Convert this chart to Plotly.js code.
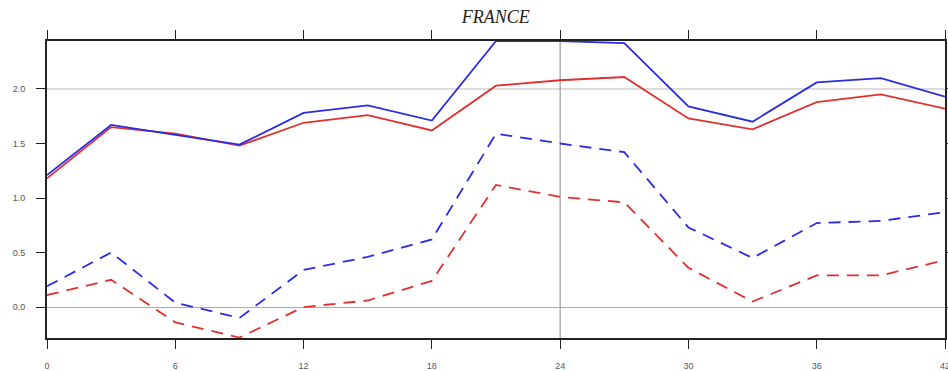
<!DOCTYPE html>
<html>
<head>
<meta charset="utf-8">
<script src="https://cdn.plot.ly/plotly-3.0.1.min.js"></script>
<style>html,body{margin:0;padding:0;background:#fff;}#chart{width:948px;height:371px;}</style>
</head>
<body>
<div id="chart"></div>
<script>
const hours = [0, 3, 6, 9, 12, 15, 18, 21, 24, 27, 30, 33, 36, 39, 42];
const blueSolid = [1.21, 1.67, 1.58, 1.49, 1.78, 1.85, 1.71, 2.44, 2.44, 2.42, 1.84, 1.70, 2.06, 2.10, 1.93];
const redSolid  = [1.18, 1.65, 1.59, 1.48, 1.69, 1.76, 1.62, 2.03, 2.08, 2.11, 1.73, 1.63, 1.88, 1.95, 1.82];
const blueDash  = [0.19, 0.50, 0.04, -0.10, 0.34, 0.46, 0.62, 1.59, 1.50, 1.42, 0.73, 0.45, 0.77, 0.79, 0.87];
const redDash   = [0.11, 0.25, -0.14, -0.28, 0.00, 0.06, 0.24, 1.12, 1.01, 0.96, 0.36, 0.05, 0.29, 0.29, 0.43];
const xTicks = [0, 6, 12, 18, 24, 30, 36, 42];
const yTicks = [0.0, 0.5, 1.0, 1.5, 2.0];
const yTickText = ['0.0', '0.5', '1.0', '1.5', '2.0'];
const titleText = 'FRANCE';

const BLUE = '#2b2be0';
const RED = '#e03030';
const dashPat = '12px,8px';

const traces = [
  {x: hours, y: redDash, mode: 'lines', line: {color: RED, width: 1.8, dash: dashPat}},
  {x: hours, y: blueDash, mode: 'lines', line: {color: BLUE, width: 1.8, dash: dashPat}},
  {x: hours, y: redSolid, mode: 'lines', line: {color: RED, width: 1.8}},
  {x: hours, y: blueSolid, mode: 'lines', line: {color: BLUE, width: 1.8}}
];

const axisCommon = {
  showgrid: false,
  showline: true,
  linecolor: '#222',
  linewidth: 2,
  mirror: 'ticks',
  ticks: 'outside',
  ticklen: 9,
  tickcolor: '#222',
  tickwidth: 1,
  ticklabeloverflow: 'allow',
  tickfont: {family: 'Liberation Sans, Arial, sans-serif', size: 9, color: '#555'}
};

const layout = {
  width: 948, height: 371,
  margin: {l: 47, r: 3, t: 41, b: 33},
  paper_bgcolor: '#fff', plot_bgcolor: '#fff',
  showlegend: false,
  title: {text: titleText, x: 0.523, xanchor: 'center', y: 0.955, yanchor: 'middle',
          font: {family: 'Liberation Serif, Times New Roman, serif', size: 18, style: 'italic', color: '#222'}},
  xaxis: Object.assign({}, axisCommon, {
    range: [0, 42], tickvals: xTicks, ticktext: xTicks.map(String), zeroline: false,
    ticklabelstandoff: 9
  }),
  yaxis: Object.assign({}, axisCommon, {
    range: [-0.284, 2.44], tickvals: yTicks, ticktext: yTickText,
    zeroline: true, zerolinecolor: '#aaa', zerolinewidth: 1,
    ticklabelstandoff: 9
  }),
  shapes: [
    {type: 'line', xref: 'paper', x0: 0, x1: 1, yref: 'y', y0: 2.0, y1: 2.0, line: {color: '#bbb', width: 1}, layer: 'below'},
    {type: 'line', xref: 'x', x0: 24, x1: 24, yref: 'paper', y0: 0, y1: 1, line: {color: '#888', width: 1}, layer: 'below'}
  ]
};

Plotly.newPlot('chart', traces, layout, {displayModeBar: false, staticPlot: true});
</script>
</body>
</html>
